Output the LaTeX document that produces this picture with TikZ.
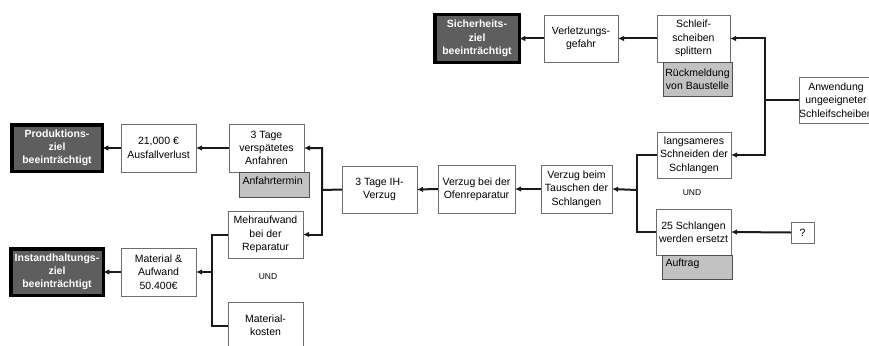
\documentclass[tikz,border=0pt]{standalone}
\usepackage{fontspec}
\setmainfont{Liberation Sans}
\usetikzlibrary{arrows.meta}
\definecolor{goalfill}{HTML}{5E5E5E}
\definecolor{notefill}{HTML}{C2C2C2}
\definecolor{boxline}{HTML}{6E6E6E}
\definecolor{noteline}{HTML}{505050}
\definecolor{wire}{HTML}{1A1A1A}

\begin{document}
\begin{tikzpicture}[x=1pt,y=-1pt,
  every node/.style={inner sep=0pt, outer sep=0pt},
  sz/.style 2 args={minimum width=#1, minimum height=#2},
  txt/.style={font=\fontsize{10.5}{13.3}\selectfont, align=center},
  box/.style={txt, draw=boxline, line width=0.8pt, fill=white},
  goal/.style={draw=black, line width=3.5pt, fill=goalfill, text=white,
    font=\fontsize{10.5}{13.3}\selectfont\bfseries, align=center},
  note/.style={txt, draw=noteline, line width=0.8pt, fill=notefill},
  topnote/.style 2 args={note, sz={#1}{#2}, align=left, inner xsep=3.5pt,
    text width=#1-7pt, text height=8pt, text depth=9pt},
  und/.style={font=\fontsize{8.5}{10}\selectfont},
  line/.style={draw=wire, line width=2pt},
  arr/.style={line, -{Latex[length=6pt,width=5.5pt]}}]

\clip (0,0) rectangle (869,345);
\fill[white] (0,0) rectangle (869,345);

% goals
\node[goal, sz={90.5}{46.5}] (prod) at (57,148) {Produktions-\\ziel\\beeinträchtigt};
\node[goal, sz={92.5}{46.5}] (inst) at (57,272) {Instandhaltungs-\\ziel\\beeinträchtigt};
\node[goal, sz={84.5}{47.5}] (sich) at (477,38.5) {Sicherheits-\\ziel\\beeinträchtigt};

% left part
\node[box, sz={75}{48}] (ausfall) at (158.5,148) {21,000 €\\Ausfallverlust};
\node[box, sz={75}{48}] (anfahren) at (266.5,148) {3 Tage\\verspätetes\\Anfahren};
\node[topnote={70}{25}] (anfahrtermin) at (274,184.5) {Anfahrtermin};
\node[box, sz={75}{47}] (mehr) at (265.5,234.5) {Mehraufwand\\bei der\\Reparatur};
\node[box, sz={75}{48}] (material) at (158.5,272) {Material \&\\Aufwand\\50.400€};
\node[und] (und1) at (268,277) {UND};
\node[box, sz={75}{47}] (matkosten) at (265.5,325.5) {Material-\\kosten};

% middle chain
\node[box, sz={75}{47}] (ih) at (379.5,189.5) {3 Tage IH-\\Verzug};
\node[box, sz={77}{48}] (ofen) at (476.5,189) {Verzug bei der\\Ofenreparatur};
\node[box, sz={71}{48}] (tausch) at (576.5,189) {Verzug beim\\Tauschen der\\Schlangen};

% right part
\node[box, sz={74}{46}] (langs) at (694,155) {langsameres\\Schneiden der\\Schlangen};
\node[und] (und2) at (692,193) {UND};
\node[box, sz={75}{46}] (schl25) at (693.5,232) {25 Schlangen\\werden ersetzt};
\node[topnote={70}{24}] (auftrag) at (697,267) {Auftrag};
\node[box, sz={23}{21}] (frage) at (802.5,232.5) {?};

% top part
\node[box, sz={73}{47}] (schleif) at (693.5,38.5) {Schleif-\\scheiben\\splittern};
\node[note, sz={69}{34}] (rueck) at (697.5,79) {Rückmeldung\\von Baustelle};
\node[box, sz={74}{47}] (verl) at (581,38.5) {Verletzungs-\\gefahr};
\node[box, sz={74}{46}] (anwend) at (836,100) {Anwendung\\ungeeigneter\\Schleifscheiben};

% junction points
\coordinate (jl) at (212,272);
\coordinate (jm) at (322,190);
\coordinate (jr) at (637,190);
\coordinate (jt) at (765,100);

% connectors
\draw[arr] (ausfall.west) -- (prod.east);
\draw[arr] (anfahren.west) -- (ausfall.east);
\draw[arr] (material.west) -- (inst.east);
\draw[line] (mehr.west) -| (jl) |- (matkosten.west);
\draw[arr] (jl) -- (material.east);
\draw[arr] (ih.west) -- (jm) |- (anfahren.east);
\draw[arr] (jm) |- (mehr.east);
\draw[arr] (ofen.west) -- (ih.east);
\draw[arr] (tausch.west) -- (ofen.east);
\draw[line] (langs.west) -| (jr) |- (schl25.west);
\draw[arr] (jr) -- (tausch.east);
\draw[arr] (frage.west) -- (schl25.east);
\draw[arr] (anwend.west) -- (jt) |- (schleif.east);
\draw[arr] (jt) |- (langs.east);
\draw[arr] (schleif.west) -- (verl.east);
\draw[arr] (verl.west) -- (sich.east);
\end{tikzpicture}
\end{document}
